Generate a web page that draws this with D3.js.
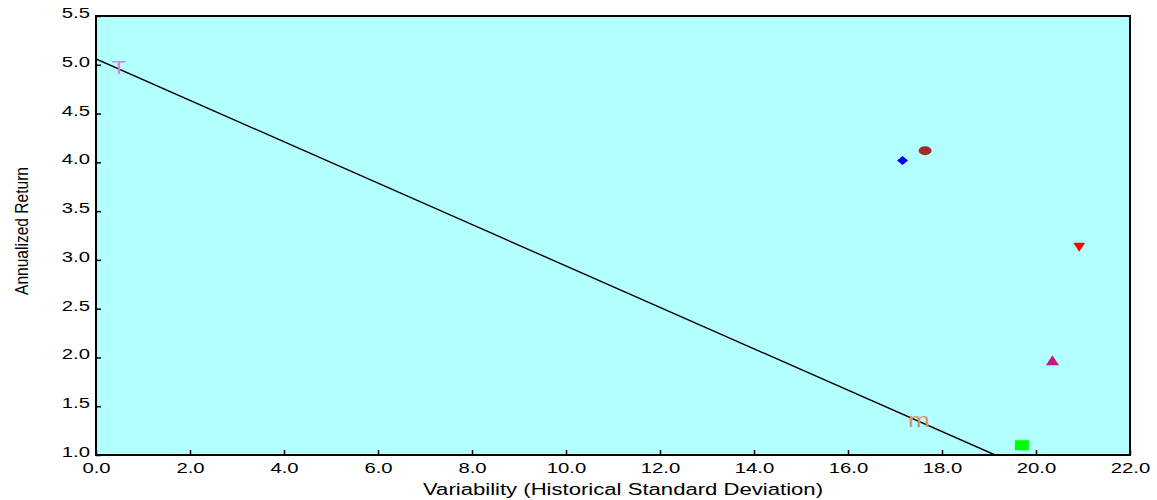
<!DOCTYPE html>
<html>
<head>
<meta charset="utf-8">
<style>
    body { margin: 0; background: white; }
    svg { display: block; font-family: 'Liberation Sans', Arial, sans-serif; }
</style>
</head>
<body>
<svg width="1157" height="500"></svg>

<script src="https://d3js.org/d3.v7.min.js"></script>
<script>
    // axis ticks
    let xTicks = [0, 2, 4, 6, 8, 10, 12, 14, 16, 18, 20, 22]
    let yTicks = [1.0, 1.5, 2.0, 2.5, 3.0, 3.5, 4.0, 4.5, 5.0, 5.5]

    // points: variability vs annualized return
    let pointNames = ["T", "p1", "p2", "p3", "p4", "p5", "m"]
    let pointX = [0.49, 17.16, 17.64, 20.92, 20.35, 19.70, 17.51]
    let pointY = [4.98, 4.02, 4.12, 3.13, 1.97, 1.10, 1.35]

    // straight line through the chart
    let lineX = [0, 19.13]
    let lineY = [5.06, 1.0]

    let svg = d3.select("svg")
    let plotL = 96, plotR = 1130, plotT = 16, plotB = 455

    let x = d3.scaleLinear().domain([0, 22]).range([plotL, plotR])
    let y = d3.scaleLinear().domain([1.0, 5.5]).range([plotB, plotT])

    svg.append("rect")
        .attr("x", plotL).attr("y", plotT)
        .attr("width", plotR - plotL).attr("height", plotB - plotT)
        .attr("fill", "#b3ffff")

    svg.append("clipPath").attr("id", "plot")
        .append("rect")
        .attr("x", plotL).attr("y", plotT)
        .attr("width", plotR - plotL).attr("height", plotB - plotT)

    // line
    let lineData = lineX.map((v, i) => [v, lineY[i]])
    svg.append("path")
        .datum(lineData)
        .attr("clip-path", "url(#plot)")
        .attr("d", d3.line().x(d => x(d[0])).y(d => y(d[1])))
        .attr("fill", "none")
        .attr("stroke", "black")
        .attr("stroke-width", 1.4)

    // marker styles, by index
    let styles = [
        { type: "text", char: "T", color: "#e07ee0" },
        { type: "diamond", w: 11, h: 9, color: "#0000ff" },
        { type: "ellipse", w: 13, h: 9, color: "#a52a2a" },
        { type: "down", w: 12, h: 9, color: "#ff0000" },
        { type: "up", w: 13, h: 10, color: "#c71585" },
        { type: "square", w: 14, h: 10, color: "#00ff00" },
        { type: "text", char: "m", color: "#d4956b" }
    ]

    function shapePath(s) {
        let w = s.w / 2, h = s.h / 2
        if (s.type == "diamond") return `M0,${-h}L${w},0L0,${h}L${-w},0Z`
        if (s.type == "down") return `M${-w},${-h}L${w},${-h}L0,${h}Z`
        if (s.type == "up") return `M0,${-h}L${w},${h}L${-w},${h}Z`
        return `M${-w},${-h}H${w}V${h}H${-w}Z`
    }

    let pts = svg.append("g")
        .selectAll("g")
        .data(pointNames)
        .join("g")
        .attr("transform", (d, i) => `translate(${x(pointX[i])},${y(pointY[i])})`)

    pts.each(function (d, i) {
        let s = styles[i]
        let g = d3.select(this)
        if (s.type == "text") {
            g.append("text")
                .attr("text-anchor", "middle")
                .attr("dy", s.char == "T" ? "0.38em" : "0.3em")
                .attr("font-size", s.char == "T" ? 19 : 21)
                .attr("transform", "scale(1.25,1)")
                .attr("fill", s.color)
                .text(s.char)
        } else if (s.type == "ellipse") {
            g.append("ellipse").attr("rx", s.w / 2).attr("ry", s.h / 2).attr("fill", s.color)
        } else {
            g.append("path").attr("d", shapePath(s)).attr("fill", s.color)
        }
    })

    // axes
    let xAxis = svg.append("g")
        .attr("transform", `translate(0,${plotB})`)
        .call(d3.axisBottom(x).tickValues(xTicks).tickSizeInner(-5).tickSizeOuter(0).tickFormat(d3.format(".1f")))
    let yAxis = svg.append("g")
        .attr("transform", `translate(${plotL},0)`)
        .call(d3.axisLeft(y).tickValues(yTicks).tickSizeInner(-5).tickSizeOuter(0).tickFormat(d3.format(".1f")))

    for (let ax of [xAxis, yAxis]) {
        ax.select(".domain").remove()
        ax.selectAll(".tick line").attr("stroke", "black").attr("stroke-width", 1.5)
        ax.selectAll("text").attr("font-size", 14).attr("fill", "black")
            .attr("font-family", "'Liberation Sans', Arial, sans-serif")
    }
    xAxis.selectAll("text").attr("y", 0).attr("dy", null).attr("transform", "translate(0,18) scale(1.45,1)")
    yAxis.selectAll("text").attr("x", 0).attr("dy", null).attr("transform", "translate(-6,1.5) scale(1.45,1)")

    // frame
    svg.append("rect")
        .attr("x", plotL).attr("y", plotT)
        .attr("width", plotR - plotL).attr("height", plotB - plotT)
        .attr("fill", "none")
        .attr("stroke", "black")
        .attr("stroke-width", 2)

    // titles
    svg.append("text")
        .attr("x", 623).attr("y", 495)
        .attr("text-anchor", "middle")
        .attr("font-size", 16)
        .attr("textLength", 400)
        .attr("lengthAdjust", "spacingAndGlyphs")
        .text("Variability (Historical Standard Deviation)")

    svg.append("text")
        .attr("transform", "translate(28,231) rotate(-90)")
        .attr("text-anchor", "middle")
        .attr("font-size", 18)
        .attr("textLength", 128)
        .attr("lengthAdjust", "spacingAndGlyphs")
        .text("Annualized Return")
</script>
</body>
</html>
